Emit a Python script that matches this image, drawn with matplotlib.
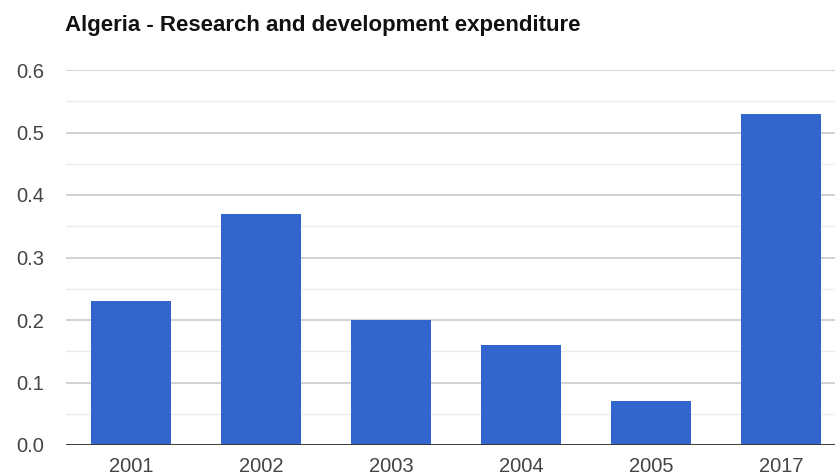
import matplotlib
matplotlib.use("Agg")
from matplotlib import pyplot as plt
from matplotlib.ticker import MultipleLocator

years = ["2001", "2002", "2003", "2004", "2005", "2017"]
expenditure = [0.23, 0.37, 0.20, 0.16, 0.07, 0.53]
y_ticks = [0.0, 0.1, 0.2, 0.3, 0.4, 0.5, 0.6]

plt.rcParams["font.family"] = ["Liberation Sans", "DejaVu Sans"]

fig = plt.figure(figsize=(8.35, 4.75), dpi=100)
ax = fig.add_axes([66 / 835, 30 / 475, 780 / 835, 375 / 475])

ax.bar(range(len(years)), expenditure, width=0.615, color="#3366cc", zorder=3)

ax.set_xlim(-0.5, len(years) - 0.5)
ax.set_ylim(0, 0.6)
ax.set_yticks(y_ticks)
ax.set_yticklabels([f"{v:.1f}" for v in y_ticks])
ax.yaxis.set_minor_locator(MultipleLocator(0.05))
ax.set_xticks(range(len(years)))
ax.set_xticklabels(years)

ax.grid(axis="y", which="major", color="#cccccc", linewidth=1.2, zorder=0)
ax.grid(axis="y", which="minor", color="#ebebeb", linewidth=1.0, zorder=0)
ax.axhline(0, color="#333333", linewidth=1.3, zorder=4)

for side in ["top", "right", "left", "bottom"]:
    ax.spines[side].set_visible(False)
ax.tick_params(axis="both", which="both", length=0, labelsize=14.5, colors="#444444")
ax.tick_params(axis="y", pad=16)
ax.tick_params(axis="x", pad=8.5)

fig.text(65 / 835, 1 - 26 / 475, "Algeria - Research and development expenditure",
         fontsize=16, fontweight="bold", color="#111111", va="center", ha="left")

fig.savefig("out.png", dpi=100)
